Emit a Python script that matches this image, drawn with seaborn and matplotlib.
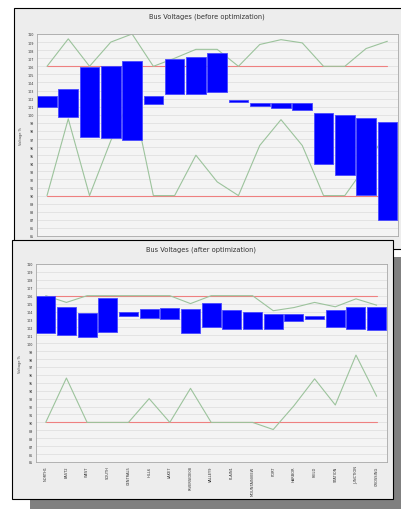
import numpy as np
import seaborn as sns
import matplotlib.pyplot as plt
import pandas as pd
from matplotlib.patches import Rectangle

# nombres de las barras (ilegibles en la captura, longitudes aproximadas)
buses = ["NORTH1", "EAST2", "WEST", "SOUTH", "CENTRAL5", "HILL6", "LAKE7",
         "RIVERSIDE08", "VALLEY9", "PLAIN1", "MOUNTAINVIEW", "PORT", "HARBOR",
         "FIELD", "STATION", "JUNCTION", "CROSSING"]

# antes de optimizar: tension min / max por barra (%)
before_hi = [102.3, 103.2, 105.9, 106.1, 106.6, 102.3, 106.9, 107.2, 107.7,
             101.8, 101.4, 101.4, 101.4, 100.25, 100.0, 99.6, 99.1]
before_lo = [101.0, 99.7, 97.2, 97.1, 96.9, 101.3, 102.6, 102.6, 102.8,
             101.6, 101.1, 100.8, 100.6, 93.9, 92.5, 90.1, 87.0]
before_up = [106, 109.4, 106, 109.0, 110, 106, 107, 108.1, 108.1, 106,
             108.7, 109.3, 108.9, 106, 106, 108.2, 109.1]
before_dn = [90, 99.5, 90, 96.8, 102.5, 90, 90, 95.0, 91.7, 90,
             96.2, 99.4, 96.2, 90, 90, 93.7, 98.0]

# despues de optimizar
after_hi = [105.9, 104.6, 103.8, 105.7, 104.0, 104.3, 104.5, 104.3, 105.1,
            104.2, 104.0, 103.7, 103.75, 103.4, 104.2, 104.6, 104.6]
after_lo = [101.3, 101.0, 100.8, 101.4, 103.4, 103.2, 103.0, 101.3, 102.1,
            101.8, 101.8, 101.8, 102.8, 103.1, 102.1, 101.75, 101.7]
after_up = [106, 105.15, 106, 106, 106, 106, 106, 105.0, 106, 106,
            106, 104.1, 104.5, 105.15, 104.6, 105.6, 104.8]
after_dn = [90, 95.6, 90, 90, 90, 93.0, 90, 94.3, 90, 90,
            90, 89.1, 92.1, 95.5, 92.2, 98.5, 93.3]

limit_hi = 106
limit_lo = 90

W, H = 401, 510
sns.set_style("white")
fig = plt.figure(figsize=(W / 100, H / 100), dpi=100, facecolor="white")


def rect(x0, y0, x1, y1, z, **kw):
    fig.patches.append(Rectangle((x0 / W, 1 - y1 / H), (x1 - x0) / W, (y1 - y0) / H,
                                 transform=fig.transFigure, zorder=z, **kw))


def axes_px(x0, y0, x1, y1, z):
    ax = fig.add_axes([x0 / W, 1 - y1 / H, (x1 - x0) / W, (y1 - y0) / H])
    ax.set_zorder(z)
    return ax


def draw_chart(ax, hi, lo, up, dn, show_names):
    df = pd.DataFrame({"bus": buses, "hi": hi, "lo": lo, "up": up, "dn": dn})
    df["span"] = df["hi"] - df["lo"]
    df["x"] = np.arange(len(df))
    ax.set_facecolor("#F4F4F4")
    ax.set_axisbelow(True)
    ax.grid(axis="y", color="#DDDDDD", lw=0.5)
    # lineas rojas de limite
    lim = pd.DataFrame({"x": [0, len(df) - 1] * 2,
                        "v": [limit_hi, limit_hi, limit_lo, limit_lo],
                        "g": ["a", "a", "b", "b"]})
    sns.lineplot(data=lim, x="x", y="v", units="g", estimator=None, color="#EE8080",
                 lw=0.8, ax=ax, zorder=1)
    sns.lineplot(data=df, x="x", y="up", color="#9CC39C", lw=0.8, ax=ax, zorder=1)
    sns.lineplot(data=df, x="x", y="dn", color="#9CC39C", lw=0.8, ax=ax, zorder=1)
    ax.bar(df["x"], df["span"], bottom=df["lo"], width=0.92, color="#0000FF",
           edgecolor="#4848FF", lw=0.6, zorder=2)
    ax.set_xlim(-0.47, len(df) - 0.5)
    ax.set_ylim(85, 110)
    ax.set_yticks(range(85, 111))
    ax.set_yticklabels([str(v) for v in range(85, 111)], fontsize=2.4, color="#333333")
    ax.set_xticks(df["x"])
    if show_names:
        ax.set_xticklabels(df["bus"], rotation=90, fontsize=2.6, color="#333333")
    else:
        ax.set_xticklabels([])
    ax.tick_params(length=1.5, width=0.4, pad=1, colors="#666666")
    for lab in ax.get_xticklabels() + ax.get_yticklabels():
        lab.set_color("#333333")
    ax.set_xlabel("")
    ax.set_ylabel("Voltage %", fontsize=2.5, color="#444444", labelpad=3)
    for s in ax.spines.values():
        s.set_color("#A8A8A8")
        s.set_linewidth(0.6)


# sombra de las ventanas
rect(393, 258, 401, 510, 0.1, facecolor="#808080", lw=0)
rect(30, 500, 401, 510, 0.1, facecolor="#808080", lw=0)

# ventana de arriba
rect(14, 9, 410, 250, 0.2, facecolor="#EDEDED", edgecolor="black", lw=0.8)
ax1 = axes_px(37, 35, 398, 237, 0.3)
draw_chart(ax1, before_hi, before_lo, before_up, before_dn, False)
fig.text(207 / W, 1 - 17 / H, "Bus Voltages (before optimization)", fontsize=4.8,
         ha="center", va="center", color="#333333", zorder=0.3)

# ventana de abajo
rect(12, 241, 393, 500, 0.4, facecolor="#EDEDED", edgecolor="black", lw=0.8)
ax2 = axes_px(36, 265, 387, 463, 0.5)
draw_chart(ax2, after_hi, after_lo, after_up, after_dn, True)
fig.text(201 / W, 1 - 250 / H, "Bus Voltages (after optimization)", fontsize=4.8,
         ha="center", va="center", color="#333333", zorder=0.5)

fig.savefig("out.png", dpi=100)
